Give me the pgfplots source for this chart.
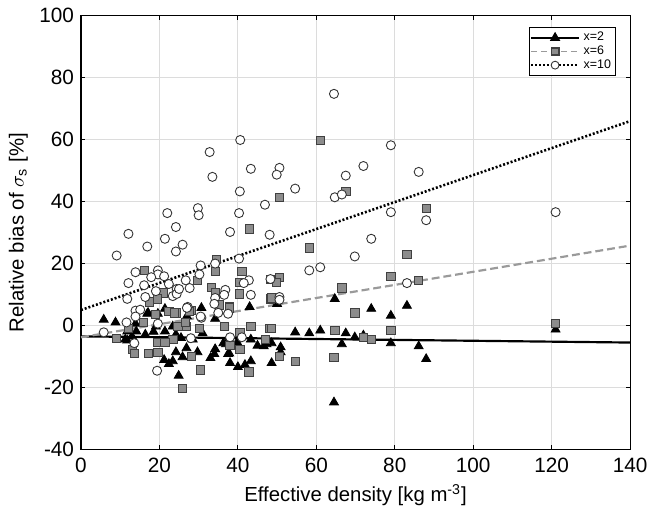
\documentclass[border=0pt]{standalone}
\usepackage{pgfplots}
\pgfplotsset{compat=1.18}
\usepackage{fontspec}
\setmainfont{Liberation Sans}
\definecolor{sqfill}{HTML}{8C8C8C}
\definecolor{sqedge}{HTML}{404040}
\definecolor{dashgray}{HTML}{9A9A9A}
\definecolor{gridc}{HTML}{DCDCDC}
\begin{document}
\begin{tikzpicture}
\begin{axis}[
  name=ax,
  width=278pt, height=219.5pt, scale only axis,
  xmin=0, xmax=140, ymin=-40, ymax=100,
  xtick={0,20,...,140}, ytick={-40,-20,...,100},
  grid=major, major grid style={gridc, line width=0.6pt},
  tick align=inside, major tick length=2pt,
  tick style={black, line width=0.5pt},
  axis line style={line width=0.6pt},
  /pgf/number format/assume math mode=true,
  tick label style={font=\fontsize{10.5}{12}\selectfont},
  label style={font=\fontsize{10.3}{12}\selectfont},
  xticklabel style={yshift=-1pt},
  xlabel={Effective density [kg m\textsuperscript{-3}]},
  ylabel={Relative bias of $\sigma_{\mathrm{s}}$ [\%]},
  xlabel style={yshift=1pt},
  ylabel style={yshift=-1pt},
  legend style={font=\fontsize{6.3}{6.5}\selectfont, at={(0.975,0.975)}, anchor=north east,
    draw=black, line width=0.5pt, inner sep=0.5pt, row sep=-3pt,
    legend cell align=left},
  legend image code/.code={\draw[mark repeat=2,mark phase=2] plot coordinates {(0cm,0cm) (0.42cm,0cm) (0.84cm,0cm)};},
]
% x=2 triangles
\addplot[only marks, mark=triangle*, mark size=2.6pt, black, forget plot] coordinates {
(5.8,1.9)(8.8,1.0)(11.8,-4.8)(11.3,-4.5)(11.8,-1.9)(13.9,0.6)(14.1,-1.9)(16.4,-2.9)(16.9,3.8)(17.1,4.1)
(19.6,3.8)(19.1,-0.3)(21.4,5.4)(21.4,-1.9)(23.4,-0.3)(24.2,-2.9)(28.5,-4.5)(21.2,-11.1)(22.4,-12.4)(23.4,-11.5)
(24.9,-16.2)(24.2,-8.6)(25.9,-10.2)(26.9,-7.3)(29.7,-8.6)(30.7,5.7)(34.2,2.2)(34.2,-7.6)(34,-9.2)(37.5,-9.2)
(38,-12.1)(40,-13.4)(41.8,-12.7)(43.3,-11.5)(36.3,-5.7)(43.3,-4.5)(43,6)(50,7)(54.6,-2.2)(58.2,-2.5)
(61,-1.6)(37.8,-9)(37,-6)(39.8,-5.4)(47.3,-6)(50.9,-7)(50.9,-8.6)(48.6,-12.1)(46.6,-6.7)(48.6,-5.7)
(64.5,-24.8)(64.7,8.6)(74,5.4)(79,3.2)(83.1,6.4)(67.5,-2.5)(66.5,-6)(69.8,-3.8)(72,-3.2)(79,-5.7)
(86.1,-6.7)(88,-10.8)(121,-1.3)(13,-3.5)(18.5,-2)(25.5,-4)(31,-2.5)(33,-10.5)(45,-6.5)(27,3)
};
% x=6 squares
\addplot[only marks, mark=square*, mark size=2.1pt, draw=sqedge, fill=sqfill, mark options={line width=0.4pt}, forget plot] coordinates {
(61,59.8)(50.6,41.4)(67.5,43.3)(88,37.9)(43,31.2)(34.5,21.3)(34.2,17.5)(41,17.5)(29.7,14.6)(40.3,14)
(33.2,12.4)(34.2,10.5)(40.3,10.2)(35.3,6.7)(37.8,6)(28,4.8)(48.3,8.6)(24.2,4.1)(26.9,-0.3)(30.2,-1)
(36.5,-0.3)(40.5,-2.2)(43.3,-0.3)(48.1,-1)(16.1,17.8)(20.9,10.5)(17.4,7.6)(19.4,8.6)(18.9,3.5)(22.4,4.5)
(23.9,4.1)(15.9,1)(9,-4.1)(13.1,-7.6)(13.6,-8.9)(17.1,-8.9)(19.6,-8.6)(25.9,-20.4)(28.2,-9.9)(30.5,-14.3)
(42.8,-15)(38,-6.4)(40.5,-7.6)(58.2,25.1)(48.3,15)(50.6,15.6)(49.9,14)(48.6,8.9)(47,-4.5)(50.6,-9.9)
(54.6,-11.5)(83.1,22.9)(79,15.9)(66.5,12.1)(86.1,14.6)(69.8,4.1)(64.7,-1.6)(79,-1.6)(64.5,-10.2)(72,-3.8)
(74,-4.5)(48.6,-1)(121,0.6)(12.1,-1)(24.7,-0.3)(26.7,1)(23.4,-4.5)(19.6,-5.4)(21.4,-5.4)(27.7,4.5)(37.8,5.7)
};
% x=10 circles
\addplot[only marks, mark=*, mark size=2.3pt, draw=black!80, fill=white, mark options={line width=0.45pt}, forget plot] coordinates {
(40.6,59.9)(32.8,56)(43.3,50.6)(33.5,48)(40.5,43.3)(46.9,39)(22,36.3)(29.8,37.9)(30,35.6)(40.3,36.3)
(24.2,31.8)(64.5,74.8)(79,58.2)(50.6,50.9)(49.9,48.7)(72,51.5)(67.5,48.4)(86.1,49.6)(54.6,44.2)(64.7,41.4)
(66.5,42.3)(79,36.6)(88,34)(12.1,29.6)(21.4,28)(16.9,25.5)(9.1,22.6)(24.2,23.9)(13.9,17.2)(19.6,17.8)
(19.6,16.5)(17.9,15.6)(21.2,15.9)(12.1,13.7)(16.1,13)(19.1,11.1)(22.4,13.4)(24.4,11.8)(11.8,8.6)(16.4,9.2)
(23.4,9.5)(24.4,10.2)(13.9,4.8)(15.1,5.1)(13.9,2.9)(11.6,1)(5.8,-2.2)(38,30.2)(48.1,29.3)(25.9,26.1)
(40.3,21.6)(30.5,19.4)(34.2,20)(30.2,16.5)(26.7,14.6)(42.8,14.6)(41.5,13.7)(48.3,15)(25,11.8)(27.7,12.1)
(36.8,11.5)(36.5,9.9)(43.3,9.9)(34.2,8.9)(34,7)(27.2,6)(35,4.1)(30.7,2.5)(30.5,2.9)(37.5,3.8)
(38,-3.8)(41,-3.8)(50.6,9.2)(50.6,8.3)(58.2,17.8)(61,18.8)(74,28)(69.8,22.3)(83.1,13.7)(121,36.6)
(13.6,-5.7)(19.4,-14.6)(19.6,0.6)(28,-4.1)(27,5.7)
};
% trend lines
\addplot[black, line width=1.1pt, forget plot] coordinates {(0,-3.5) (140,-5.5)};
\addplot[dashgray, line width=1.1pt, dash pattern=on 4pt off 2pt, forget plot] coordinates {(0,-3.8) (140,25.8)};
\addplot[black, line width=1.3pt, dash pattern=on 1pt off 1pt, forget plot] coordinates {(0,5) (140,66)};
% legend entries
\addlegendimage{black, line width=0.9pt, mark=triangle*, mark size=2.2pt, mark options={solid}}
\addlegendentry{x=2}
\addlegendimage{dashgray, line width=0.9pt, dash pattern=on 3pt off 2pt, mark=square*, mark size=1.8pt, mark options={solid, draw=sqedge, fill=sqfill}}
\addlegendentry{x=6}
\addlegendimage{black, line width=1pt, dash pattern=on 1pt off 1pt, mark=*, mark size=2pt, mark options={solid, draw=black!80, fill=white, line width=0.45pt}}
\addlegendentry{x=10}
\end{axis}
\path (ax.south west) ++(-41pt,-28.5pt);
\path (ax.north east) ++(8pt,8pt);
\end{tikzpicture}
\end{document}
